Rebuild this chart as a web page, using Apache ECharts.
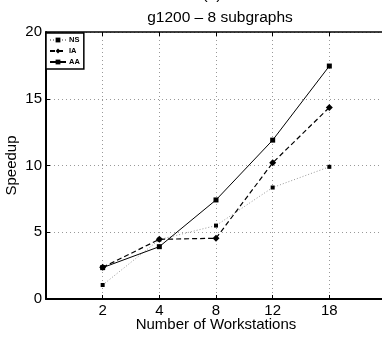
<!DOCTYPE html>
<html><head><meta charset="utf-8">
<script src="https://cdn.jsdelivr.net/npm/echarts@6/dist/echarts.min.js"></script>
<style>html,body{margin:0;padding:0;background:#fff}#c{width:382px;height:337px}</style>
</head><body><div id="c"></div>
<script>
var categories = ['2', '4', '8', '12', '18'];
var nsValues = [1.05, 4.45, 5.5, 8.35, 9.9];
var iaValues = [2.37, 4.47, 4.55, 10.2, 14.35];
var aaValues = [2.35, 3.92, 7.42, 11.9, 17.45];
var yTicks = [0, 5, 10, 15, 20];

function pts(vals) { return vals.map(function (v, i) { return [i + 1, v]; }); }
var font = 'Liberation Sans, Arial, Helvetica, sans-serif';
var chart = echarts.init(document.getElementById('c'), null, { renderer: 'canvas' });
chart.setOption({
  animation: false,
  backgroundColor: '#fff',
  title: [
    { text: 'g1200 \u2013 8 subgraphs', left: 215, top: 5, textAlign: 'center',
      textStyle: { fontFamily: font, fontSize: 15.5, fontWeight: 'normal', color: '#000' } },
    { text: '(a)', left: 207, top: -18, textAlign: 'center',
      textStyle: { fontFamily: font, fontSize: 15.5, fontWeight: 'normal', color: '#000' } }
  ],
  grid: { left: 46, top: 32, right: -4, bottom: 38, containLabel: false, outerBoundsMode: 'none' },
  legend: {
    left: 46, top: 33, orient: 'vertical', itemGap: 3, itemWidth: 16, itemHeight: 6,
    padding: [3, 4, 3, 3], backgroundColor: '#fff', borderColor: '#000', borderWidth: 1.5,
    textStyle: { fontFamily: font, fontSize: 7.5, fontWeight: 'bold', color: '#000', padding: [0, 0, 0, -2] },
    data: ['NS', 'IA', 'AA']
  },
  xAxis: [{
    type: 'value', min: 0, max: 6, interval: 1,
    axisLine: { lineStyle: { color: '#000', width: 2 } },
    axisTick: { inside: true, length: 4, lineStyle: { color: '#000' } },
    axisLabel: { fontFamily: font, fontSize: 15, color: '#000', margin: 4,
      formatter: function (v) { return (v >= 1 && v <= categories.length) ? categories[v - 1] : ''; } },
    splitLine: { show: true, lineStyle: { color: '#999', type: [1, 3], width: 1 } },
    name: 'Number of Workstations', nameLocation: 'middle', nameGap: 18, nameMoveOverlap: false,
    nameTextStyle: { fontFamily: font, fontSize: 15, color: '#000' }
  }, {
    type: 'value', position: 'top', min: 0, max: 6, interval: 1,
    axisLine: { show: true, onZero: false, lineStyle: { color: '#000', width: 1.5 } },
    axisTick: { show: true, inside: true, length: 4, lineStyle: { color: '#000' } },
    axisLabel: { show: false }, splitLine: { show: false }
  }],
  yAxis: {
    type: 'value', min: 0, max: 20, interval: 5,
    axisLine: { show: true, lineStyle: { color: '#000', width: 2 } },
    axisTick: { show: true, inside: true, length: 4, lineStyle: { color: '#000' } },
    axisLabel: { fontFamily: font, fontSize: 15, color: '#000', margin: 4,
      formatter: function (v) { return yTicks.indexOf(v) >= 0 ? String(v) : ''; } },
    splitLine: { show: true, lineStyle: { color: '#999', type: [1, 3], width: 1 } },
    name: 'Speedup', nameLocation: 'middle', nameGap: 27, nameMoveOverlap: false,
    nameTextStyle: { fontFamily: font, fontSize: 15, color: '#000' }
  },
  series: [
    { name: 'NS', type: 'line', data: pts(nsValues), symbol: 'rect', symbolSize: 4,
      itemStyle: { color: '#000' }, lineStyle: { color: '#999', width: 1, type: [1, 2] }, z: 3 },
    { name: 'IA', type: 'line', data: pts(iaValues), symbol: 'diamond', symbolSize: 7,
      itemStyle: { color: '#000' }, lineStyle: { color: '#000', width: 1.2, type: [5, 3] }, z: 4 },
    { name: 'AA', type: 'line', data: pts(aaValues), symbol: 'rect', symbolSize: 5,
      itemStyle: { color: '#000' }, lineStyle: { color: '#000', width: 1 }, z: 5 }
  ]
});
</script></body></html>
